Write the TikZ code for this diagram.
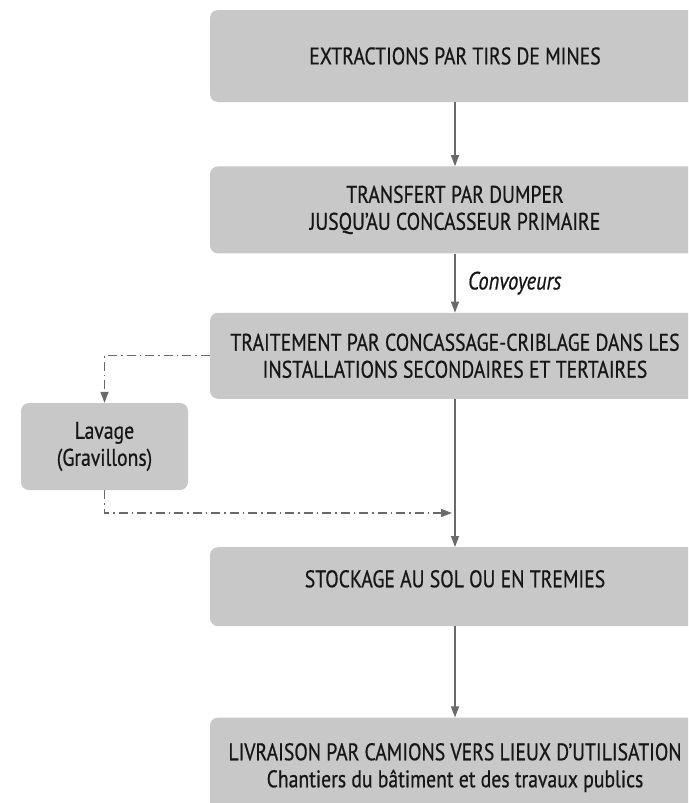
\documentclass[tikz,border=0pt]{standalone}
\usepackage{fontspec}
\setmainfont{PT Sans}[FakeStretch=0.82,FakeBold=0.6]
\usetikzlibrary{positioning,arrows.meta}
\definecolor{boxgray}{HTML}{C8C8C8}
\definecolor{linegray}{HTML}{6A6A6A}
\definecolor{inkgray}{HTML}{161616}

\begin{document}
\begin{tikzpicture}[x=1pt,y=-1pt,
stepbox/.style={rectangle, rounded corners=8pt, fill=boxgray, minimum width=490pt, align=center, text=inkgray, font=\fontsize{24}{27}\selectfont},
flow/.style={draw=linegray, line width=1.4pt, -{Triangle[width=8pt,length=11pt]}},
wash/.style={flow, line width=1.2pt, dash pattern=on 9pt off 4pt on 1.5pt off 4pt},
]
\path[use as bounding box, clip] (0,0) rectangle (688,803);

%Nodes
\node[stepbox, minimum height=92pt] (extraction) at (455,56) {EXTRACTIONS PAR TIRS DE MINES};
\node[stepbox, minimum height=87pt, below=64pt of extraction] (transfert) {TRANSFERT PAR DUMPER\\JUSQU'AU CONCASSEUR PRIMAIRE};
\node[stepbox, minimum height=86pt, below=59pt of transfert] (traitement) {TRAITEMENT PAR CONCASSAGE-CRIBLAGE DANS LES\\INSTALLATIONS SECONDAIRES ET TERTAIRES};
\node[stepbox, minimum height=79pt, below=148pt of traitement] (stockage) {STOCKAGE AU SOL OU EN TREMIES\\[-11pt]};
\node[stepbox, minimum height=100pt, below=91pt of stockage] (livraison) {LIVRAISON PAR CAMIONS VERS LIEUX D’UTILISATION\\Chantiers du bâtiment et des travaux publics};
\node[stepbox, minimum width=167pt, minimum height=87pt] (lavage) at (104.5,446.5) {Lavage\\(Gravillons)};
\coordinate (retour) at (452,513);

%Lines
\draw[flow] (extraction) -- (transfert);
\draw[flow] (transfert) -- node[right, text=inkgray, font=\fontsize{25}{27}\selectfont\itshape, xshift=9pt] {Convoyeurs} (traitement);
\draw[flow] (traitement) -- (stockage);
\draw[flow] (stockage) -- (livraison);
\draw[wash] (traitement.west) -| (lavage.north);
\draw[wash] (lavage.south) |- (retour);
\end{tikzpicture}
\end{document}
